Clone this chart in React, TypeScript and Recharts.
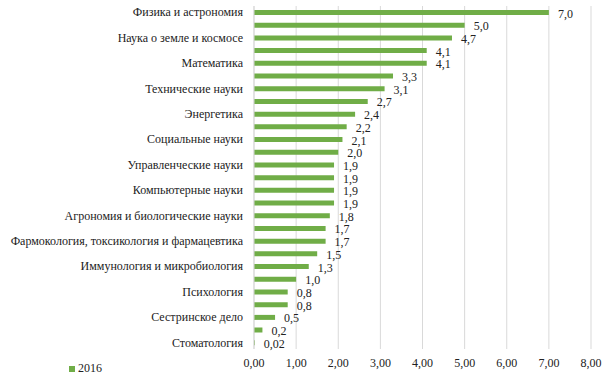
import { BarChart, Bar, XAxis, YAxis, CartesianGrid, LabelList } from 'recharts';

// only every other category is labelled in the source chart
const categories = [
    'Физика и астрономия', '',
    'Наука о земле и космосе', '',
    'Математика', '',
    'Технические науки', '',
    'Энергетика', '',
    'Социальные науки', '',
    'Управленческие науки', '',
    'Компьютерные науки', '',
    'Агрономия и биологические науки', '',
    'Фармокология, токсикология и фармацевтика', '',
    'Иммунология и микробиология', '',
    'Психология', '',
    'Сестринское дело', '',
    'Стоматология',
];

const values2016 = [
    7.0, 5.0, 4.7, 4.1, 4.1, 3.3, 3.1, 2.7, 2.4, 2.2, 2.1, 2.0, 1.9, 1.9,
    1.9, 1.9, 1.8, 1.7, 1.7, 1.5, 1.3, 1.0, 0.8, 0.8, 0.5, 0.2, 0.02,
];

const xTicks = [0, 1, 2, 3, 4, 5, 6, 7, 8];
const seriesName = '2016';

const data = categories.map((name, i) => ({ name, id: i, v2016: values2016[i] }));

const font = 'Liberation Serif, Times New Roman, serif';
const green = '#70ad47';
const textColor = '#222';

const fmtComma = (v: number, digits: number) => v.toFixed(digits).replace('.', ',');

function CategoryTick({ x, y, payload }: any) {
    return (
        <text x={x} y={y} dy={4} textAnchor="end" fill={textColor} style={{ fontFamily: font, fontSize: 12 }}>
            {categories[payload.value]}
        </text>
    );
}

function ValueTick({ x, y, payload }: any) {
    return (
        <text x={x} y={y} dy={12} textAnchor="middle" fill={textColor} style={{ fontFamily: font, fontSize: 12 }}>
            {fmtComma(payload.value, 2)}
        </text>
    );
}

function BarValue({ x, y, width, height, value }: any) {
    return (
        <text
            x={x + width + 9}
            y={y + height / 2}
            dy={5}
            fill={textColor}
            style={{ fontFamily: font, fontSize: 12 }}
        >
            {fmtComma(value, value < 0.1 ? 2 : 1)}
        </text>
    );
}

export default function App() {
    return (
        <div style={{ position: 'absolute', left: 0, top: 0, width: 609, height: 387, background: '#fff' }}>
            <BarChart
                width={609}
                height={387}
                data={data}
                layout="vertical"
                margin={{ top: 6, right: 18, left: 0, bottom: 18 }}
            >
                <CartesianGrid horizontal={false} stroke="#d9d9d9" />
                <XAxis
                    type="number"
                    domain={[0, 8]}
                    ticks={xTicks}
                    interval={0}
                    axisLine={false}
                    tickLine={false}
                    tickSize={0}
                    tickMargin={6}
                    height={20}
                    tick={<ValueTick />}
                />
                <YAxis
                    type="category"
                    dataKey="id"
                    width={254}
                    interval={0}
                    tickLine={false}
                    tickSize={0}
                    tickMargin={11}
                    axisLine={{ stroke: '#d9d9d9' }}
                    tick={<CategoryTick />}
                />
                <Bar dataKey="v2016" name={seriesName} fill={green} barSize={5} isAnimationActive={false}>
                    <LabelList dataKey="v2016" content={<BarValue />} />
                </Bar>
            </BarChart>
            <div
                style={{
                    position: 'absolute',
                    left: 69,
                    top: 361,
                    fontFamily: font,
                    fontSize: 12,
                    color: textColor,
                    display: 'flex',
                    alignItems: 'center',
                }}
            >
                <span style={{ width: 6, height: 6, background: green, display: 'inline-block', marginRight: 3 }} />
                {seriesName}
            </div>
        </div>
    );
}
